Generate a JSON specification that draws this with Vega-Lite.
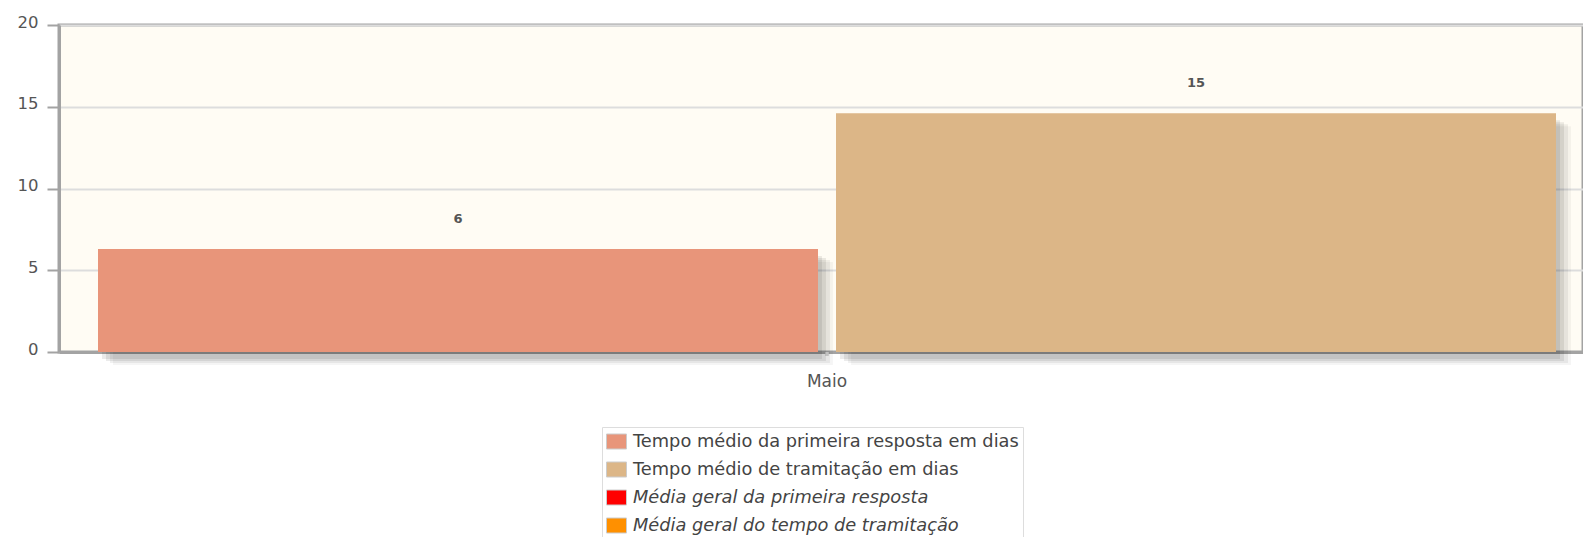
{
  "$schema": "https://vega.github.io/schema/vega-lite/v6.json",
  "autosize": "none",
  "width": 1524,
  "height": 327,
  "padding": {"left": 59, "top": 25, "right": 0, "bottom": 185},
  "background": "white",
  "config": {
    "view": {"stroke": "#a3a3a3", "strokeWidth": 3, "fill": "#fffcf4"},
    "font": "DejaVu Sans"
  },
  "data": {
    "values": [
      {"mes": "Maio", "serie": "Tempo médio da primeira resposta em dias", "valor": 6.3},
      {"mes": "Maio", "serie": "Tempo médio de tramitação em dias", "valor": 14.6}
    ]
  },
  "encoding": {
    "x": {
      "field": "mes", "type": "nominal", "title": null,
      "scale": {"range": [0, 1536], "paddingOuter": 0.02675, "paddingInner": 0},
      "axis": {"labelAngle": 0, "ticks": false, "domainColor": "#a3a3a3", "domainWidth": 3, "labelPadding": 21, "labelFontSize": 17, "labelColor": "#555", "labelFont": "DejaVu Sans"}
    },
    "y": {
      "field": "valor", "type": "quantitative", "title": null,
      "scale": {"domain": [0, 20], "nice": false},
      "axis": {"values": [0, 5, 10, 15, 20], "domainColor": "#a3a3a3", "domainWidth": 3, "tickColor": "#a3a3a3", "tickWidth": 2, "tickSize": 12, "labelPadding": 9, "labelFontSize": 16.5, "labelColor": "#555", "labelOffset": -3, "gridColor": "#dddddd", "gridWidth": 2}
    }
  },
  "resolve": {"scale": {"xOffset": "independent"}},
  "layer": [
    {
      "mark": {"type": "rule", "color": "#d6d6d6", "strokeWidth": 3, "yOffset": 4},
      "encoding": {"y": {"datum": 0}}
    },
    {
      "mark": {"type": "bar", "color": "#000", "opacity": 0.08, "yOffset": 7, "y2Offset": 0},
      "encoding": {"xOffset": {"field": "serie", "type": "nominal", "scale": {"domain": ["Tempo médio da primeira resposta em dias", "Tempo médio de tramitação em dias"], "range": [4, 1462], "paddingInner": 0.0244, "paddingOuter": 0}}}
    },
    {
      "mark": {"type": "bar", "color": "#000", "opacity": 0.08, "yOffset": 9, "y2Offset": 0},
      "encoding": {"xOffset": {"field": "serie", "type": "nominal", "scale": {"domain": ["Tempo médio da primeira resposta em dias", "Tempo médio de tramitação em dias"], "range": [8, 1466], "paddingInner": 0.0244, "paddingOuter": 0}}}
    },
    {
      "mark": {"type": "bar", "color": "#000", "opacity": 0.06, "yOffset": 11, "y2Offset": 0},
      "encoding": {"xOffset": {"field": "serie", "type": "nominal", "scale": {"domain": ["Tempo médio da primeira resposta em dias", "Tempo médio de tramitação em dias"], "range": [12, 1470], "paddingInner": 0.0244, "paddingOuter": 0}}}
    },
    {
      "mark": {"type": "bar", "color": "#000", "opacity": 0.04, "yOffset": 13, "y2Offset": 0},
      "encoding": {"xOffset": {"field": "serie", "type": "nominal", "scale": {"domain": ["Tempo médio da primeira resposta em dias", "Tempo médio de tramitação em dias"], "range": [15, 1473], "paddingInner": 0.0244, "paddingOuter": 0}}}
    },
    {
      "encoding": {
        "xOffset": {"field": "serie", "type": "nominal", "scale": {"domain": ["Tempo médio da primeira resposta em dias", "Tempo médio de tramitação em dias"], "range": [0, 1458], "paddingInner": 0.0244, "paddingOuter": 0}}
      },
      "layer": [
        {
          "mark": {"type": "bar"},
          "encoding": {
            "color": {
              "field": "serie", "type": "nominal",
              "scale": {
                "domain": ["Tempo médio da primeira resposta em dias", "Tempo médio de tramitação em dias", "Média geral da primeira resposta", "Média geral do tempo de tramitação"],
                "range": ["#e8957a", "#dcb687", "#ff0000", "#ff9000"]
              },
              "legend": {
                "title": null,
                "orient": "none",
                "legendX": 543,
                "legendY": 402,
                "direction": "vertical",
                "symbolType": "M-1,-0.75H1V0.75H-1Z",
                "symbolSize": 400,
                "symbolStrokeColor": "#cccccc",
                "symbolStrokeWidth": 1,
                "symbolOpacity": 1,
                "labelFontSize": 17.8,
                "labelColor": "#444",
                "labelFont": "DejaVu Sans",
                "labelOffset": 6,
                "labelLimit": 600,
                "rowPadding": 8,
                "padding": 4,
                "strokeColor": "#dddddd",
                "fillColor": "white",
                "cornerRadius": 0,
                "encode": {
                  "labels": {"update": {"fontStyle": {"signal": "indexof(datum.label, 'Média') === 0 ? 'italic' : 'normal'"}}}
                }
              }
            }
          }
        },
        {
          "mark": {"type": "text", "dy": -30, "fontSize": 13, "fontWeight": "bold", "color": "#555", "baseline": "middle"},
          "encoding": {"text": {"field": "valor", "type": "quantitative", "format": ".0f"}}
        }
      ]
    }
  ]
}
